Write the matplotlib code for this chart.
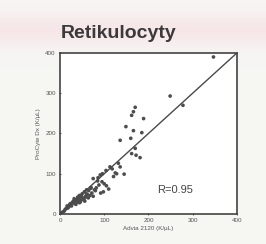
import numpy as np
import matplotlib.pyplot as plt

plt.rcParams['font.family'] = ['Liberation Sans', 'DejaVu Sans']

# Advia 2120 vs ProCyte Dx reticulocytes (K/uL)
advia = [347, 249, 278, 170, 166, 189, 162, 149, 166, 185, 136, 160, 170, 172, 162,
         181, 132, 136, 125, 145, 121, 113, 91, 75, 100, 105, 110, 95, 88, 82,
         98, 92, 85, 78, 70, 72, 65, 60, 62, 55, 58, 50, 52, 48, 45, 40, 42,
         38, 35, 30, 33, 28, 25, 22, 20, 18, 15, 12, 10, 8, 5, 3, 68, 75, 80,
         64, 56, 46, 36, 26, 44, 54, 86, 96, 104, 118, 128, 32, 40, 50, 60,
         24, 16, 70, 58, 44]
procyte = [390, 293, 270, 265, 254, 237, 245, 217, 207, 202, 183, 188, 163, 146, 150,
           140, 126, 117, 102, 99, 93, 117, 97, 88, 75, 70, 62, 80, 72, 65,
           55, 52, 82, 60, 64, 52, 58, 60, 48, 55, 44, 50, 40, 45, 38, 42, 34,
           36, 30, 32, 26, 28, 22, 24, 18, 15, 14, 12, 8, 6, 4, 2, 46, 44, 58,
           40, 32, 30, 24, 20, 46, 36, 90, 100, 108, 112, 100, 38, 30, 36, 50,
           26, 20, 66, 42, 28]
line_x = [0, 400]
line_y = [0, 400]
ticks = [0, 100, 200, 300, 400]
r_text = 'R=0.95'

fig = plt.figure(figsize=(2.66, 2.44), dpi=100)
fig.patch.set_facecolor('#f6f6f4')

# faint pinkish band behind the title
bg = fig.add_axes([0, 0, 1, 1], zorder=0)
rows = np.linspace(0, 1, 244)[:, None]
band = np.exp(-((rows - 0.12) / 0.065) ** 2)
rgb = np.ones((244, 266, 3))
rgb[..., 0] = 0.965 - 0.0 * band
rgb[..., 1] = 0.965 - 0.06 * band
rgb[..., 2] = 0.955 - 0.045 * band
bg.imshow(rgb, aspect='auto', extent=[0, 1, 1, 0])
bg.set_xlim(0, 1)
bg.set_ylim(1, 0)
bg.axis('off')

fig.text(0.447, 0.862, 'Retikulocyty', ha='center', va='center',
         fontsize=14, fontweight='bold', color='#3a3a3a')

ax = fig.add_axes([0.2256, 0.123, 0.665, 0.66], zorder=1)
ax.set_facecolor('white')
ax.scatter(advia, procyte, s=7, color='#4d4d4d', edgecolors='none')
ax.plot(line_x, line_y, color='#4a4a4a', lw=1.0)
ax.set_xlim(0, 400)
ax.set_ylim(0, 400)
ax.set_xticks(ticks)
ax.set_yticks(ticks)
ax.tick_params(labelsize=4.5, colors='#555555', length=2, width=0.7, pad=2,
               direction='inout')
for s in ax.spines.values():
    s.set_color('#444444')
    s.set_linewidth(1.2)
ax.set_xlabel('Advia 2120 (K/\u00b5L)', fontsize=4.5, color='#555555', labelpad=2)
ax.set_ylabel('ProCyte Dx (K/\u00b5L)', fontsize=4.5, color='#555555', labelpad=3)
ax.text(260, 60, r_text, fontsize=8, color='#444444', ha='center', va='center')

fig.savefig('out.png', dpi=100)
